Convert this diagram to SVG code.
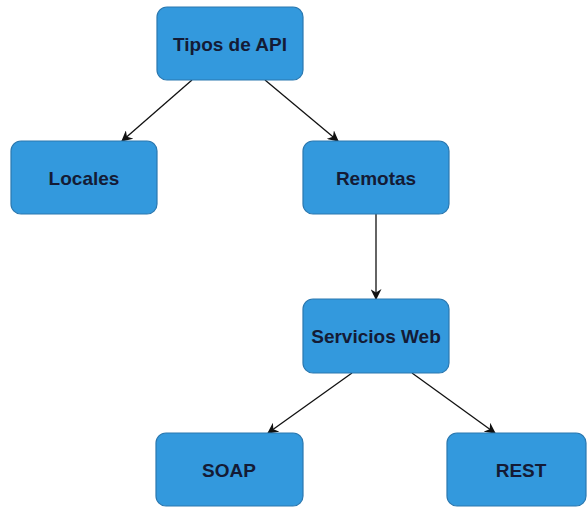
<svg xmlns="http://www.w3.org/2000/svg" width="587" height="517" viewBox="0 0 587 517">
  <defs>
    <style>
      .box { fill: #3399dd; stroke: #2a78b0; stroke-width: 1.2; }
      .lbl { font-family: "Liberation Sans", Arial, sans-serif; font-size: 19px; font-weight: bold; fill: #141b35; text-anchor: middle; dominant-baseline: central; }
      .edge { stroke: #111; stroke-width: 1.3; fill: none; marker-end: url(#arrow); }
    </style>
    <marker id="arrow" viewBox="0 0 10 10" refX="9" refY="5" markerWidth="11" markerHeight="11" markerUnits="userSpaceOnUse" orient="auto">
      <path d="M0,0 L10,5 L0,10 L3,5 Z" fill="#111"/>
    </marker>
  </defs>
  <rect width="587" height="517" fill="#ffffff"/>

  <g id="connectors">
    <line class="edge" x1="192" y1="80" x2="122" y2="141"/>
    <line class="edge" x1="265" y1="80" x2="338" y2="141"/>
    <line class="edge" x1="376" y1="214" x2="376" y2="299"/>
    <line class="edge" x1="352" y1="373" x2="268" y2="433"/>
    <line class="edge" x1="412" y1="373" x2="495" y2="433"/>
  </g>

  <g id="tipos">
    <rect class="box" x="157" y="7" width="146" height="73" rx="10"/>
    <text class="lbl" x="230" y="44">Tipos de API</text>
  </g>
  <g id="locales">
    <rect class="box" x="11" y="141" width="146" height="73" rx="10"/>
    <text class="lbl" x="84" y="178">Locales</text>
  </g>
  <g id="remotas">
    <rect class="box" x="303" y="141" width="146" height="73" rx="10"/>
    <text class="lbl" x="376" y="178">Remotas</text>
  </g>
  <g id="servicios">
    <rect class="box" x="303" y="299" width="146" height="74" rx="10"/>
    <text class="lbl" x="376" y="336">Servicios Web</text>
  </g>
  <g id="soap">
    <rect class="box" x="156" y="433" width="147" height="73" rx="10"/>
    <text class="lbl" x="229" y="470">SOAP</text>
  </g>
  <g id="rest">
    <rect class="box" x="447" y="433" width="139" height="73" rx="10"/>
    <text class="lbl" x="521" y="470">REST</text>
  </g>
</svg>
